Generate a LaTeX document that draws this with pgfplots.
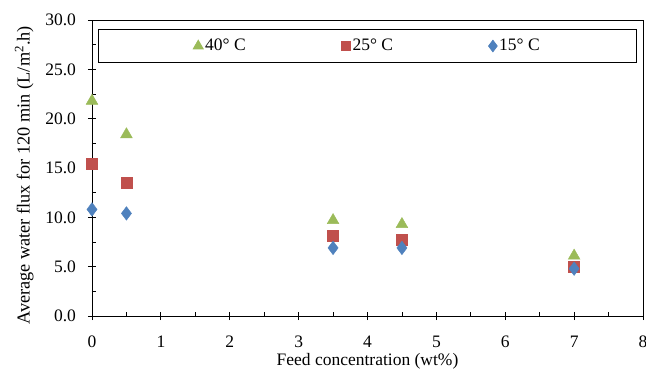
\documentclass[border=0pt]{standalone}
\usepackage{fontspec}
\setmainfont{Liberation Serif}
\usepackage{pgfplots}
\pgfplotsset{compat=1.18}
\definecolor{cgreen}{HTML}{9BBB59}
\definecolor{cred}{HTML}{C0504D}
\definecolor{cblue}{HTML}{4F81BD}
\begin{document}
\fontsize{17.5bp}{20bp}\selectfont
\begin{tikzpicture}
\begin{axis}[
  scale only axis,
  width=551bp, height=296bp,
  xmin=0, xmax=8, ymin=0, ymax=30,
  xtick={0,1,...,8}, ytick={0,5,...,30},
  extra x ticks={0.5,1.5,2.5,3.5,4.5,5.5,6.5,7.5},
  extra x tick labels={},
  extra x tick style={tick align=inside, major tick length=4bp, grid=none},
  extra y ticks={2.5,7.5,12.5,17.5,22.5,27.5},
  extra y tick labels={},
  extra y tick style={tick align=inside, major tick length=4bp, grid=none},
  minor tick num=0,
  tick align=center,
  major tick length=8bp,
  xtick pos=bottom, ytick pos=left,
  tick style={black, line width=0.8pt},
  axis line style={black, line width=0.8pt},
  /pgf/number format/assume math mode=true,
  yticklabel style={xshift=-6bp, /pgf/number format/.cd, fixed, fixed zerofill, precision=1},
  xticklabel style={yshift=-10bp, /pgf/number format/.cd, fixed, precision=0},
  ticklabel style={font=\fontsize{17.5bp}{20bp}\selectfont},
  label style={font=\fontsize{17.5bp}{20bp}\selectfont},
  xlabel={Feed concentration (wt\%)},
  ylabel={Average water flux for 120 min (L/m\textsuperscript{2}.h)},
  xlabel style={yshift=10bp},
  ylabel style={yshift=-4bp, at={(ticklabel cs:0.475)}, font=\fontsize{18.3bp}{20bp}\selectfont},
  legend columns=3,
  legend style={at={(0.5,1)}, yshift=-9bp, anchor=north, draw=black, line width=0.8pt,
    font=\fontsize{17.5bp}{20bp}\selectfont, inner xsep=95bp, inner ysep=7.5bp,
    /tikz/every even column/.append style={column sep=3bp},
    /tikz/every odd column/.append style={column sep=0bp}},
  legend cell align=left,
  legend image code/.code={\draw[#1, /tikz/every mark/.append style={scale=0.85}] plot coordinates {(0bp,0bp)};},
]
\addplot[only marks, mark=triangle*, mark size=6.8bp, color=cgreen, mark options={fill=cgreen, draw=cgreen}]
  coordinates {(0,21.8) (0.5,18.4) (3.5,9.7) (4.5,9.3) (7,6.1)};
\addlegendentry{\makebox[131bp][l]{40° C}}
\addplot[only marks, mark=square*, mark size=5.5bp, color=cred, mark options={fill=cred, draw=cred}]
  coordinates {(0,15.4) (0.5,13.5) (3.5,8.1) (4.5,7.7) (7,5.0)};
\addlegendentry{\makebox[131bp][l]{25° C}}
\addplot[only marks, mark=diamond*, mark size=6.8bp, color=cblue, mark options={fill=cblue, draw=cblue}]
  coordinates {(0,10.8) (0.5,10.4) (3.5,6.9) (4.5,6.9) (7,4.8)};
\addlegendentry{15° C}
\end{axis}
\pgfresetboundingbox
\path ([xshift=-92bp,yshift=-53bp]current axis.south west) rectangle ([xshift=3bp,yshift=20bp]current axis.north east);
\end{tikzpicture}
\end{document}
